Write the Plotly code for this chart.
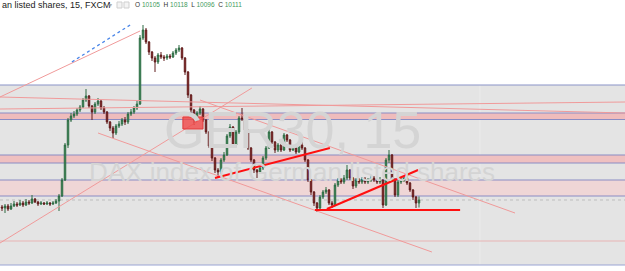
import plotly.graph_objects as go

# ---- data (15-min candles, GER30) ----
closes = [10095, 10099, 10093, 10099, 10103, 10101, 10105, 10101, 10107, 10105,
          10113, 10107, 10103, 10105, 10103, 10105, 10103, 10105, 10109, 10119,
          10151, 10221, 10271, 10279, 10283, 10291, 10297, 10311, 10319, 10299,
          10287, 10303, 10309, 10295, 10287, 10267, 10255, 10245, 10259, 10263,
          10271, 10267, 10283, 10287, 10295, 10303, 10435, 10451, 10427, 10407,
          10395, 10387, 10401, 10397, 10395, 10399, 10397, 10405, 10411, 10415,
          10395, 10367, 10321, 10291, 10271, 10285, 10293, 10271, 10247, 10219,
          10195, 10171, 10167, 10191, 10201, 10239, 10257, 10221, 10247, 10275,
          10273, 10251, 10215, 10191, 10171, 10167, 10175, 10195, 10215, 10247,
          10227, 10211, 10221, 10211, 10241, 10231, 10211, 10215, 10207, 10221,
          10215, 10191, 10151, 10127, 10105, 10095, 10117, 10127, 10131, 10105,
          10101, 10141, 10151, 10147, 10155, 10171, 10155, 10139, 10151, 10147,
          10153, 10147, 10151, 10155, 10151, 10147, 10151, 10101, 10191, 10201,
          10151, 10121, 10147, 10151, 10155, 10145, 10131, 10117, 10105, 10111]
opens = [10097] + closes[:-1]
highs = [10101, 10103, 10103, 10105, 10109, 10107, 10111, 10109, 10113, 10111,
         10121, 10115, 10109, 10109, 10107, 10109, 10107, 10109, 10113, 10123,
         10155, 10225, 10275, 10285, 10289, 10295, 10301, 10315, 10333, 10321,
         10301, 10307, 10315, 10311, 10299, 10289, 10269, 10259, 10263, 10269,
         10275, 10277, 10287, 10293, 10299, 10309, 10441, 10461, 10455, 10429,
         10409, 10399, 10405, 10407, 10401, 10403, 10403, 10409, 10415, 10421,
         10417, 10397, 10369, 10323, 10293, 10289, 10299, 10295, 10273, 10249,
         10221, 10197, 10175, 10195, 10207, 10243, 10263, 10259, 10251, 10279,
         10295, 10275, 10253, 10217, 10193, 10173, 10179, 10199, 10219, 10259,
         10249, 10229, 10225, 10223, 10245, 10243, 10233, 10221, 10217, 10225,
         10227, 10217, 10193, 10153, 10129, 10107, 10121, 10131, 10137, 10133,
         10109, 10145, 10155, 10155, 10161, 10181, 10173, 10157, 10155, 10155,
         10157, 10157, 10155, 10161, 10159, 10155, 10157, 10153, 10195, 10211,
         10203, 10155, 10151, 10157, 10159, 10159, 10147, 10133, 10119, 10118]
lows = [10089, 10085, 10089, 10091, 10097, 10097, 10099, 10097, 10099, 10101,
        10103, 10105, 10099, 10101, 10101, 10101, 10099, 10101, 10103, 10089,
        10117, 10149, 10215, 10267, 10275, 10279, 10287, 10295, 10307, 10295,
        10271, 10283, 10299, 10291, 10283, 10263, 10249, 10235, 10241, 10255,
        10259, 10261, 10263, 10279, 10283, 10291, 10301, 10431, 10423, 10401,
        10389, 10367, 10383, 10393, 10389, 10391, 10393, 10395, 10401, 10407,
        10391, 10361, 10315, 10285, 10261, 10267, 10281, 10267, 10243, 10215,
        10189, 10165, 10157, 10163, 10187, 10199, 10235, 10217, 10217, 10243,
        10269, 10247, 10211, 10187, 10165, 10155, 10163, 10171, 10191, 10213,
        10223, 10205, 10207, 10207, 10209, 10227, 10207, 10209, 10203, 10205,
        10211, 10187, 10147, 10121, 10099, 10087, 10093, 10113, 10123, 10101,
        10095, 10099, 10137, 10143, 10143, 10151, 10151, 10133, 10135, 10143,
        10143, 10143, 10143, 10147, 10147, 10143, 10143, 10095, 10099, 10185,
        10147, 10117, 10117, 10143, 10147, 10141, 10127, 10111, 10095, 10096]
bars = list(range(len(closes)))

# ---- drawn levels / zones (price) ----
zone_top, zone_bottom = 10341, 9981
band1 = (10272, 10285)
band2 = (10185, 10201)
band3 = (10119, 10151)
last_price = 10111
pink_level = 10029
# trend lines: (bar0, price0, bar1, price1)
pink_lines = [(-0.67, 10317, 207.7, 10285),
              (-0.67, 10293, 207.7, 10307),
              (66, 10311, 171, 10085),
              (32, 10245, 143.3, 10007),
              (-0.67, 10025, 83.3, 10335),
              (-0.67, 10317, 46, 10449)]
blue_dotted = (23.3, 10387, 42.7, 10461)
red_lines = [(71, 10155, 109.3, 10215),
             (108.3, 10093, 138.7, 10171),
             (104.3, 10091, 152.7, 10091)]
red_box = (60.3, 10253, 67, 10277)

XR = [-0.667, 207.667]
YR = [9969, 10511]

fig = go.Figure()
fig.add_trace(go.Candlestick(
    x=bars, open=opens, high=highs, low=lows, close=closes,
    increasing=dict(line=dict(color='#2d6a43', width=1), fillcolor='#45a066'),
    decreasing=dict(line=dict(color='#5e1a1a', width=1), fillcolor='#a83030'),
    whiskerwidth=0, showlegend=False, hoverinfo='skip'))

shapes = []
# gray zone
shapes.append(dict(type='rect', xref='x', yref='y', x0=XR[0], x1=XR[1], y0=zone_bottom, y1=zone_top,
                   fillcolor='#e4e4e4', line=dict(width=0), layer='below'))
shapes.append(dict(type='line', xref='x', yref='y', x0=159.3, x1=159.3, y0=zone_bottom, y1=zone_top,
                   line=dict(color='#ececec', width=1), layer='below'))
for lv, col in [(zone_top, '#8a93c8'), (zone_bottom, '#9aa3d4')]:
    shapes.append(dict(type='line', xref='x', yref='y', x0=XR[0], x1=XR[1], y0=lv, y1=lv,
                       line=dict(color=col, width=1.2), layer='below'))
for (b0, b1), fill in [(band1, '#efbcbc'), (band2, '#efc0c0'), (band3, '#efd6d6')]:
    shapes.append(dict(type='rect', xref='x', yref='y', x0=XR[0], x1=XR[1], y0=b0, y1=b1,
                       fillcolor=fill, line=dict(width=0), layer='below'))
    for lv in (b0, b1):
        shapes.append(dict(type='line', xref='x', yref='y', x0=XR[0], x1=XR[1], y0=lv, y1=lv,
                           line=dict(color='#8a8cc4', width=1), layer='below'))
shapes.append(dict(type='line', xref='x', yref='y', x0=XR[0], x1=XR[1], y0=pink_level, y1=pink_level,
                   line=dict(color='#e8b4b4', width=1), layer='below'))
shapes.append(dict(type='line', xref='x', yref='y', x0=XR[0], x1=XR[1], y0=last_price, y1=last_price,
                   line=dict(color='#bdbdbd', width=1, dash='dot'), layer='below'))
for (a, b, c, d) in pink_lines:
    shapes.append(dict(type='line', xref='x', yref='y', x0=a, y0=b, x1=c, y1=d,
                       line=dict(color='#f09a9a', width=1)))
a, b, c, d = blue_dotted
shapes.append(dict(type='line', xref='x', yref='y', x0=a, y0=b, x1=c, y1=d,
                   line=dict(color='#4a86e8', width=1.3, dash='dot')))
for (a, b, c, d) in red_lines:
    shapes.append(dict(type='line', xref='x', yref='y', x0=a, y0=b, x1=c, y1=d,
                       line=dict(color='#ff1010', width=2)))
a, b, c, d = red_box
shapes.append(dict(type='rect', xref='x', yref='y', x0=a, y0=b, x1=c, y1=d,
                   fillcolor='rgba(240,70,70,0.8)', line=dict(color='#e03a3a', width=1)))
# header icons
for x0 in (117, 124):
    shapes.append(dict(type='rect', xref='paper', yref='paper', x0=x0 / 625, x1=(x0 + 5) / 625,
                       y0=1 - 8 / 271, y1=1 - 2 / 271, fillcolor='#f4f4f4',
                       line=dict(color='#cfcfcf', width=1)))

green = '#3f9a5e'
ohlc = ("O <span style='color:%s'>10105</span>  H <span style='color:%s'>10118</span>  "
        "L <span style='color:%s'>10096</span>  C <span style='color:%s'>10111</span>") % (green, green, green, green)

annotations = [
    dict(text='GER30, 15', x=292 / 625, y=1 - 130 / 271, xref='paper', yref='paper',
         showarrow=False, font=dict(family='Liberation Sans', size=52, color='#d4d4d4')),
    dict(text='DAX index of German listed shares', x=292 / 625, y=1 - 172 / 271, xref='paper', yref='paper',
         showarrow=False, font=dict(family='Liberation Sans', size=26, color='#d4d4d4')),
    dict(text='an listed shares, 15, FXCM', x=0, y=1 - 5 / 271, xref='paper', yref='paper',
         xanchor='left', yanchor='middle', showarrow=False,
         font=dict(family='Liberation Sans', size=9, color='#222222')),
    dict(text='▾', x=110 / 625, y=1 - 5 / 271, xref='paper', yref='paper',
         xanchor='center', yanchor='middle', showarrow=False,
         font=dict(family='DejaVu Sans', size=6, color='#aaaaaa')),
    dict(text=ohlc, x=133 / 625, y=1 - 5 / 271, xref='paper', yref='paper',
         xanchor='left', yanchor='middle', showarrow=False,
         font=dict(family='Liberation Sans', size=6.5, color='#333333')),
]

fig.update_layout(
    width=625, height=271, margin=dict(l=0, r=0, t=0, b=0),
    paper_bgcolor='white', plot_bgcolor='white',
    xaxis=dict(range=XR, visible=False, rangeslider=dict(visible=False), fixedrange=True),
    yaxis=dict(range=YR, visible=False, fixedrange=True),
    shapes=shapes, annotations=annotations, showlegend=False,
)
fig.write_html('out.html')
